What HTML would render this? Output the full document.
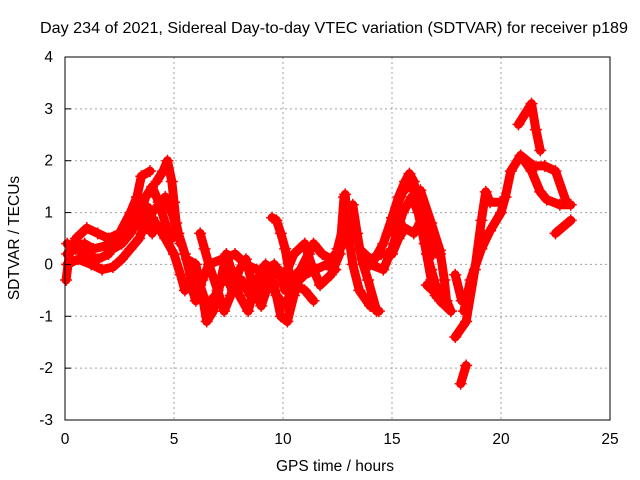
<!DOCTYPE html>
<html><head><meta charset="utf-8">
<style>
body{margin:0;background:#fff;}
svg{display:block;font-family:"Liberation Sans",sans-serif;}
</style></head>
<body>
<svg id="chart" width="640" height="480">
<text x="334" y="33" font-size="16" text-anchor="middle" textLength="588" lengthAdjust="spacingAndGlyphs">Day 234 of 2021, Sidereal Day-to-day VTEC variation (SDTVAR) for receiver p189</text>
<text x="0" y="0" font-size="15.5" text-anchor="middle" transform="translate(19,238) rotate(-90)">SDTVAR / TECUs</text>
<text x="335" y="471" font-size="15.5" text-anchor="middle">GPS time / hours</text>
<g id="grid"></g>
<g id="marks"></g>
<rect x="65" y="57" width="545" height="363" fill="none" stroke="#000" stroke-width="1"/>
<g id="ticks"></g>
</svg>
<script>
const xTicks=[0,5,10,15,20,25];
const yTicks=[-3,-2,-1,0,1,2,3,4];
const arcs=[
[[0.05,-0.3],[0.2,0.2],[0.5,0.5],[1,0.7],[1.5,0.6],[2,0.5],[2.5,0.6],[3,1.0],[3.3,1.3],[3.5,1.7],[3.9,1.8]],
[[0.1,0.4],[0.5,0.3],[1,0.2],[1.5,0.1],[2,0.2],[2.3,0.5],[2.7,0.7],[3.0,0.9],[3.3,1.1],[3.6,0.9],[4.0,0.6]],
[[0.1,0.0],[0.6,0.1],[1.2,0.0],[1.7,-0.1],[2.2,-0.05],[2.6,0.1],[3.0,0.3],[3.4,0.5],[3.8,0.9],[4.2,1.1],[4.6,1.3],[4.9,1.0],[5.2,0.6],[5.5,0.2],[5.8,-0.3]],
[[0.1,0.2],[0.4,0.35],[0.9,0.4],[1.3,0.3],[1.8,0.35],[2.2,0.3],[2.6,0.4],[3.0,0.6],[3.4,0.9],[3.7,1.3],[4.0,1.5],[4.3,1.2],[4.6,0.8],[4.9,0.5]],
[[4.2,1.6],[4.5,1.8],[4.7,2.0],[4.9,1.6],[5.0,1.2],[5.1,0.8],[5.3,0.4]],
[[3.5,0.6],[3.8,1.1],[4.0,0.9],[4.3,0.7],[4.6,0.5],[5.0,0.2],[5.3,-0.2],[5.5,-0.5]],
[[5.6,0.1],[6.0,0.0],[6.3,-0.6],[6.5,-1.1],[6.8,-0.9],[7.1,-0.4],[7.4,0.2],[7.7,-0.2],[8.0,-0.6],[8.4,-0.9],[8.8,-0.3],[9.2,0.0],[9.6,-0.4],[9.9,-1.0],[10.2,-1.1],[10.5,-0.6],[10.8,-0.2],[11.2,0.2]],
[[5.7,-0.3],[6.0,-0.7],[6.3,-0.3],[6.6,0.0],[7.0,-0.5],[7.3,-0.9],[7.6,-0.6],[8.0,-0.1],[8.3,0.1],[8.6,-0.4],[9.0,-0.8],[9.4,-0.3],[9.8,-0.1],[10.1,-0.5],[10.4,-0.3],[10.8,-0.1],[11.4,0.4],[11.8,0.2],[12.2,0.1],[12.6,0.3],[12.9,0.5]],
[[6.2,0.6],[6.4,0.3],[6.6,0.0],[7.2,0.1],[7.8,0.2],[8.3,0.0],[8.8,-0.1],[9.2,-0.1],[9.6,0.0],[10.0,-0.3],[10.5,0.2],[11,0.4],[11.3,0.0],[11.7,-0.4],[12.2,-0.2],[12.6,0.2],[12.8,1.3]],
[[5.9,-0.1],[6.2,-0.4],[6.5,-0.8],[6.9,-0.6],[7.3,-0.2],[7.7,-0.5],[8.1,-0.3],[8.5,-0.6],[8.9,-0.5],[9.3,-0.2],[9.7,-0.6],[10.1,-0.8],[10.5,-0.4],[11.0,-0.2],[11.5,-0.1],[12.0,0.0],[12.4,-0.1]],
[[9.5,0.9],[9.7,0.85],[9.9,0.6],[10.1,0.3],[10.3,-0.2],[10.6,-0.4],[11,-0.5],[11.4,-0.7]],
[[12.5,0.3],[12.8,0.8],[12.85,1.35],[13.0,0.6],[13.2,0.0],[13.5,-0.5],[14.0,-0.8],[14.4,-0.9]],
[[13.2,1.15],[13.4,0.6],[13.6,0.1],[13.9,-0.3],[14.3,-0.9]],
[[14.2,0.1],[14.6,0.4],[15.0,0.9],[15.3,1.3],[15.6,1.6],[15.8,1.75],[16.0,1.6],[16.2,1.1],[16.4,0.6],[16.6,0.2],[16.8,-0.1],[17.0,-0.4],[17.3,-0.6]],
[[13.5,0.3],[14.0,0.1],[14.5,0.2],[15.0,0.2],[15.3,0.5],[15.6,0.7],[16.0,0.6],[16.3,0.8],[16.6,0.5],[16.9,0.2],[17.2,0.2]],
[[14.0,0.0],[14.6,-0.1],[15.0,0.3],[15.5,1.0],[15.9,1.3],[16.2,1.0],[16.5,0.4],[16.8,-0.3],[17.0,-0.6]],
[[14.8,0.6],[15.2,1.1],[15.5,1.4],[15.8,1.55],[16.1,1.35],[16.4,1.0],[16.7,0.6]],
[[16.3,1.43],[16.8,0.8],[17.2,0.27],[17.4,-0.3],[17.5,-0.7],[17.7,-0.9]],
[[16.6,-0.4],[17.0,-0.55],[17.2,-0.7],[17.7,-0.9]],
[[17.9,-0.2],[18.2,-0.7]],
[[17.9,-1.4],[18.4,-1.1],[18.8,-0.1],[19.1,0.85],[19.3,1.4],[19.5,1.2],[20.0,1.2]],
[[18.3,-0.9],[18.6,-0.3],[19.1,0.3],[19.5,0.65],[20.0,1.0],[20.2,1.3]],
[[18.15,-2.3],[18.4,-1.95]],
[[20.2,1.3],[20.45,1.8],[20.9,2.1],[21.4,1.8],[21.8,1.4],[22.1,1.25],[22.7,1.15],[23.2,1.15]],
[[20.8,2.7],[21.4,3.1],[21.6,2.6],[21.8,2.2]],
[[20.9,2.1],[21.5,1.9],[22.0,1.9],[22.5,1.8],[23.0,1.2]],
[[22.5,0.6],[23.2,0.85]]
];
const NS='http://www.w3.org/2000/svg';
const X0=65,X1=610,Y0=420,Y1=57;
function xs(t){return X0+(t-0)/(25-0)*(X1-X0);}
function ys(v){return Y0-(v+3)/(7)*(Y0-Y1);}
const grid=document.getElementById('grid'),ticks=document.getElementById('ticks'),marks=document.getElementById('marks');
xTicks.forEach(t=>{
 const x=xs(t);
 if(t>0&&t<25){const l=document.createElementNS(NS,'line');
 l.setAttribute('x1',x);l.setAttribute('x2',x);l.setAttribute('y1',Y1);l.setAttribute('y2',Y0);
 l.setAttribute('stroke','#a0a0a0');l.setAttribute('stroke-dasharray','2,3');
 
 
 grid.appendChild(l);}
 const tx=document.createElementNS(NS,'text');
 tx.setAttribute('x',x);tx.setAttribute('y',444);tx.setAttribute('font-size','15.5');tx.setAttribute('text-anchor','middle');
 tx.textContent=t;
 
 
 ticks.appendChild(tx);
});
yTicks.forEach(v=>{
 const y=ys(v);
 if(v>-3&&v<4){const l=document.createElementNS(NS,'line');
 l.setAttribute('x1',X0);l.setAttribute('x2',X1);l.setAttribute('y1',y);l.setAttribute('y2',y);
 l.setAttribute('stroke','#a0a0a0');l.setAttribute('stroke-dasharray','2,3');
 
 
 grid.appendChild(l);
 const tk=document.createElementNS(NS,'line');
 tk.setAttribute('x1',X0);tk.setAttribute('x2',X0+6);tk.setAttribute('y1',y);tk.setAttribute('y2',y);tk.setAttribute('stroke','#000');
 
 
 ticks.appendChild(tk);}
 const tx=document.createElementNS(NS,'text');
 tx.setAttribute('x',53);tx.setAttribute('y',y+5);tx.setAttribute('font-size','15.5');tx.setAttribute('text-anchor','end');
 tx.textContent=v;
 
 
 ticks.appendChild(tx);
});
arcs.forEach((arc,i)=>{
 const p=document.createElementNS(NS,'polyline');
 p.setAttribute('points',arc.map(d=>xs(d[0])+','+ys(d[1])).join(' '));
 p.setAttribute('fill','none');p.setAttribute('stroke','#ff0000');p.setAttribute('stroke-width','9');
 p.setAttribute('stroke-linejoin','round');p.setAttribute('stroke-linecap','round');
 
 
 marks.appendChild(p);
 arc.forEach(d=>{
  const x=xs(d[0]),y=ys(d[1]);
  const m=document.createElementNS(NS,'path');
  m.setAttribute('d',`M${x-6},${y}h12M${x},${y-6}v12`);
  m.setAttribute('stroke','#ff0000');m.setAttribute('stroke-width','1.5');
  
  
  marks.appendChild(m);
 });
});
</script>
</body></html>
